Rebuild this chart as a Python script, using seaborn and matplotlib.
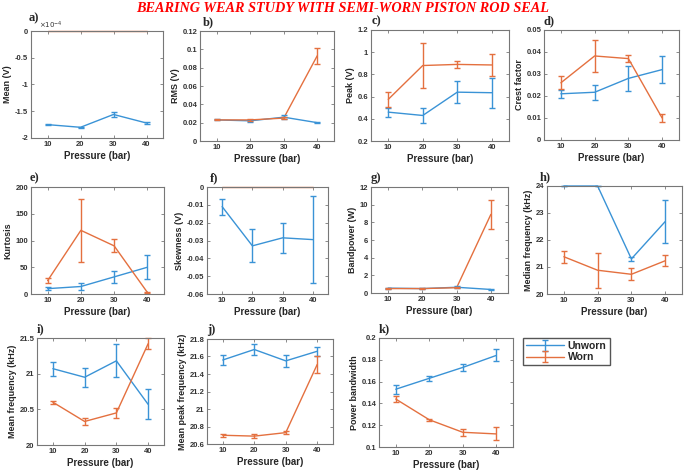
import pandas as pd
import seaborn as sns
import matplotlib.pyplot as plt
from matplotlib.ticker import FuncFormatter
from matplotlib.legend_handler import HandlerTuple

# ---- data ----
pressure = [10, 20, 30, 40]
conditions = ["Unworn", "Worn"]

# a) mean, in units of 1e-4 V
mean_unworn = [-1.75, -1.80, -1.56, -1.72]
mean_unworn_err = [0.01, 0.01, 0.05, 0.01]
mean_worn = [0.0, 0.0, 0.0, 0.0]
mean_worn_err = [0.0, 0.0, 0.0, 0.0]

# b) RMS
rms_unworn = [0.023, 0.022, 0.026, 0.020]
rms_unworn_err = [0.0005, 0.001, 0.002, 0.0005]
rms_worn = [0.023, 0.023, 0.025, 0.093]
rms_worn_err = [0.0005, 0.001, 0.001, 0.009]

# c) peak
peak_unworn = [0.46, 0.43, 0.64, 0.635]
peak_unworn_err = [0.04, 0.07, 0.10, 0.135]
peak_worn = [0.575, 0.88, 0.89, 0.885]
peak_worn_err = [0.07, 0.20, 0.035, 0.10]

# d) crest factor
crest_unworn = [0.021, 0.0217, 0.028, 0.032]
crest_unworn_err = [0.0017, 0.0033, 0.0057, 0.006]
crest_worn = [0.026, 0.0382, 0.037, 0.010]
crest_worn_err = [0.003, 0.0073, 0.0015, 0.0017]

# e) kurtosis
kurt_unworn = [10, 14, 32, 50]
kurt_unworn_err = [3, 6, 11, 22]
kurt_worn = [25, 119, 90, 3]
kurt_worn_err = [5, 59, 12, 1.5]

# f) skewness
skew_unworn = [-0.011, -0.033, -0.0285, -0.0295]
skew_unworn_err = [0.0045, 0.0093, 0.0083, 0.0245]
skew_worn = [0.0, 0.0, 0.0, 0.0]
skew_worn_err = [0.0, 0.0, 0.0, 0.0]

# g) bandpower
band_unworn = [0.55, 0.5, 0.65, 0.4]
band_unworn_err = [0.05, 0.05, 0.1, 0.05]
band_worn = [0.5, 0.5, 0.6, 8.9]
band_worn_err = [0.05, 0.08, 0.08, 1.6]

# h) median frequency
med_unworn = [24.0, 24.0, 21.3, 22.68]
med_unworn_err = [0.0, 0.0, 0.08, 0.8]
med_worn = [21.38, 20.88, 20.73, 21.23]
med_worn_err = [0.22, 0.65, 0.22, 0.21]

# i) mean frequency
mfreq_unworn = [21.07, 20.95, 21.18, 20.57]
mfreq_unworn_err = [0.1, 0.13, 0.23, 0.21]
mfreq_worn = [20.6, 20.33, 20.45, 21.42]
mfreq_worn_err = [0.02, 0.05, 0.07, 0.075]

# j) mean peak frequency
mpeak_unworn = [21.56, 21.68, 21.55, 21.66]
mpeak_unworn_err = [0.06, 0.06, 0.065, 0.05]
mpeak_worn = [20.70, 20.69, 20.73, 21.51]
mpeak_worn_err = [0.015, 0.025, 0.02, 0.1]

# k) power bandwidth
pbw_unworn = [0.153, 0.163, 0.173, 0.184]
pbw_unworn_err = [0.004, 0.0025, 0.003, 0.0055]
pbw_worn = [0.144, 0.125, 0.1135, 0.112]
pbw_worn_err = [0.003, 0.001, 0.003, 0.006]

panels = [
    ("a)", "Mean (V)", mean_unworn, mean_unworn_err, mean_worn, mean_worn_err, (-2, 0), [-2, -1.5, -1, -0.5, 0]),
    ("b)", "RMS (V)", rms_unworn, rms_unworn_err, rms_worn, rms_worn_err, (0, 0.12), [0, 0.02, 0.04, 0.06, 0.08, 0.1, 0.12]),
    ("c)", "Peak (V)", peak_unworn, peak_unworn_err, peak_worn, peak_worn_err, (0.2, 1.2), [0.2, 0.4, 0.6, 0.8, 1, 1.2]),
    ("d)", "Crest factor", crest_unworn, crest_unworn_err, crest_worn, crest_worn_err, (0, 0.05), [0, 0.01, 0.02, 0.03, 0.04, 0.05]),
    ("e)", "Kurtosis", kurt_unworn, kurt_unworn_err, kurt_worn, kurt_worn_err, (0, 200), [0, 50, 100, 150, 200]),
    ("f)", "Skewness (V)", skew_unworn, skew_unworn_err, skew_worn, skew_worn_err, (-0.06, 0), [-0.06, -0.05, -0.04, -0.03, -0.02, -0.01, 0]),
    ("g)", "Bandpower (W)", band_unworn, band_unworn_err, band_worn, band_worn_err, (0, 12), [0, 2, 4, 6, 8, 10, 12]),
    ("h)", "Median frequency (kHz)", med_unworn, med_unworn_err, med_worn, med_worn_err, (20, 24), [20, 21, 22, 23, 24]),
    ("i)", "Mean frequency (kHz)", mfreq_unworn, mfreq_unworn_err, mfreq_worn, mfreq_worn_err, (20, 21.5), [20, 20.5, 21, 21.5]),
    ("j)", "Mean peak frequency (kHz)", mpeak_unworn, mpeak_unworn_err, mpeak_worn, mpeak_worn_err, (20.6, 21.8), [20.6, 20.8, 21, 21.2, 21.4, 21.6, 21.8]),
    ("k)", "Power bandwidth", pbw_unworn, pbw_unworn_err, pbw_worn, pbw_worn_err, (0.1, 0.2), [0.1, 0.12, 0.14, 0.16, 0.18, 0.2]),
]

# axes boxes in pixels: x0, x1, ytop, ybottom ; label x position
boxes = [
    (31, 163, 31, 138, 29), (200, 334, 31, 141, 203), (371, 509, 30, 141, 372), (544, 679, 30, 140, 544),
    (31, 164, 187, 294, 30), (207, 328, 187, 294, 210), (371, 508, 187, 293, 371), (547, 682, 186, 294, 540),
    (37, 164, 338, 445, 37), (207, 333, 339, 444, 207), (379, 513, 338, 447, 379),
]

W, H = 685, 473
colors = {"Unworn": "#3a93d6", "Worn": "#e4703f"}

sns.set_theme(style="white")
plt.rcParams['font.family'] = ['Liberation Sans', 'DejaVu Sans']

fig = plt.figure(figsize=(W / 100, H / 100), dpi=100)
fmt = FuncFormatter(lambda v, p: f"{v:g}")

for (lab, ylab, uw, uwe, wo, woe, ylim, yticks), (x0, x1, yt, yb, lx) in zip(panels, boxes):
    ax = fig.add_axes([x0 / W, 1 - yb / H, (x1 - x0) / W, (yb - yt) / H])
    df = pd.DataFrame({
        "Pressure": pressure * 2,
        "value": uw + wo,
        "Condition": ["Unworn"] * 4 + ["Worn"] * 4,
    })
    sns.lineplot(data=df, x="Pressure", y="value", hue="Condition", palette=colors,
                 ax=ax, legend=False, linewidth=1.0, clip_on=False)
    ebs = []
    for vals, errs, c in [(uw, uwe, "Unworn"), (wo, woe, "Worn")]:
        if max(errs) > 0:
            eb = ax.errorbar(pressure, vals, yerr=errs, fmt="none", ecolor=colors[c],
                             elinewidth=1.0, capsize=2.5, capthick=1.0, clip_on=False)
            ebs.append(eb)
    ax.set_xlim(5, 45)
    ax.set_xticks(pressure)
    ax.set_ylim(*ylim)
    ax.set_yticks(yticks)
    ax.yaxis.set_major_formatter(fmt)
    ax.set_xlabel("Pressure (bar)", fontsize=7, fontweight="bold", labelpad=2.5, color="#262626")
    ax.set_ylabel(ylab, fontsize=6.5, fontweight="bold", labelpad=2, color="#262626")
    ax.tick_params(direction="in", length=2.5, width=0.6, top=True, right=True, bottom=True, left=True,
                   labelsize=5.5, pad=2, color="#777777", labelcolor="#333333")
    for lbl in ax.get_xticklabels() + ax.get_yticklabels():
        lbl.set_fontweight("bold")
    for s in ax.spines.values():
        s.set_color("#777777")
        s.set_linewidth(0.8)
    ly = yt - 7 if lab == "a)" else yt - 3
    fig.text(lx / W, 1 - ly / H, lab, fontsize=9, fontweight="bold",
             family="Liberation Serif", ha="left", va="bottom")
    if lab == "a)":
        ax.text(0.06, 1.0, r"$\times10^{-4}$", transform=ax.transAxes, fontsize=5,
                color="#333333", ha="left", va="bottom")
    last_ax, last_ebs = ax, ebs

lines = last_ax.get_lines()
handles = [(lines[0], last_ebs[0]), (lines[1], last_ebs[1])]
fig.legend(handles, conditions, handler_map={tuple: HandlerTuple(ndivide=1)},
           loc="upper left", bbox_to_anchor=(523 / W, 1 - 338 / H), borderaxespad=0,
           fancybox=False, edgecolor="#555555", framealpha=1, handlelength=3.6, borderpad=0.3,
           labelspacing=0.1, handletextpad=0.4, prop={"size": 7.5, "weight": "bold"})

fig.text(0.5, 1 - 8 / H, "BEARING WEAR STUDY WITH SEMI-WORN PISTON ROD SEAL",
         color="red", family="Liberation Serif", fontweight="bold", style="italic",
         fontsize=10.3, ha="center", va="center")

plt.savefig("out.png", dpi=100)
